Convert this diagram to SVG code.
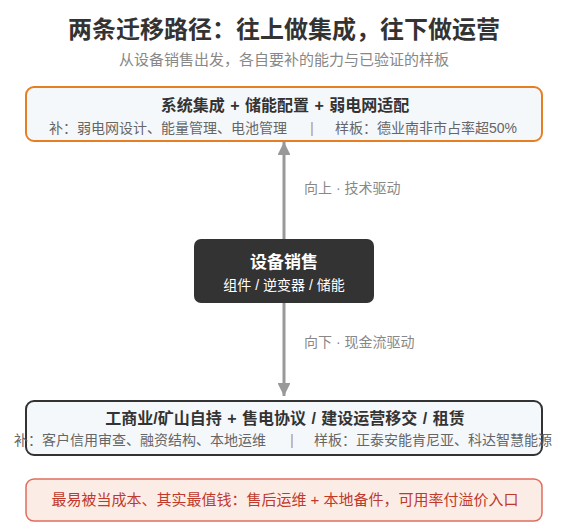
<svg xmlns="http://www.w3.org/2000/svg" width="567" height="522" viewBox="0 0 567 522">
<style>
text{font-family:"Liberation Sans","Noto Sans CJK SC",sans-serif;text-anchor:middle;white-space:pre}
.title{font-size:24px;font-weight:bold;fill:#333}
.subtitle{font-size:15px;fill:#888}
.box{fill:#f5f8fb;stroke-width:2}
.h{font-size:16px;font-weight:bold;fill:#333;word-spacing:1px}
.sl{font-size:14px;fill:#666;text-anchor:start}
.sep{font-size:15px;fill:#b09a80}
.lbl{font-size:14px;fill:#888;text-anchor:start}
.conn{stroke:#999;stroke-width:3;fill:none}
</style>
<defs>
<marker id="arr" viewBox="0 0 10 10" refX="10" refY="5" markerWidth="4.3" markerHeight="4.3" orient="auto" markerUnits="strokeWidth">
<path d="M0,0 L10,5 L0,10 z" fill="#999"/>
</marker>
</defs>
<text class="title" x="284" y="38">两条迁移路径：往上做集成，往下做运营</text>
<text class="subtitle" x="284" y="65">从设备销售出发，各自要补的能力与已验证的样板</text>
<g id="connectors">
<line class="conn" x1="284" y1="239" x2="284" y2="142" marker-end="url(#arr)"/>
<line class="conn" x1="284" y1="303" x2="284" y2="396" marker-end="url(#arr)"/>
<text class="lbl" x="304" y="193">向上 · 技术驱动</text>
<text class="lbl" x="304" y="347">向下 · 现金流驱动</text>
</g>
<g id="top">
<rect class="box" x="26" y="87" width="516" height="54" rx="8" stroke="#e67e22"/>
<text class="h" x="285" y="111">系统集成 + 储能配置 + 弱电网适配</text>
<text class="sl" x="49" y="133">补：弱电网设计、能量管理、电池管理</text>
<text class="sep" x="312" y="133">|</text>
<text class="sl" x="335" y="133">样板：德业南非市占率超50%</text>
</g>
<g id="center">
<rect x="194" y="239" width="180" height="64" rx="7" fill="#333"/>
<text x="284" y="268" style="font-size:17px;font-weight:bold;fill:#fff">设备销售</text>
<text x="284" y="290" style="font-size:14px;fill:#fff">组件 / 逆变器 / 储能</text>
</g>
<g id="bottom">
<rect class="box" x="26" y="401" width="516" height="54" rx="8" stroke="#333"/>
<text class="h" x="285" y="424">工商业/矿山自持 + 售电协议 / 建设运营移交 / 租赁</text>
<text class="sl" x="14" y="445">补：客户信用审查、融资结构、本地运维</text>
<text class="sep" x="292" y="445">|</text>
<text class="sl" x="314" y="445">样板：正泰安能肯尼亚、科达智慧能源</text>
</g>
<g id="note">
<rect x="26" y="479" width="516" height="42" rx="8" fill="#fcece6" stroke="#e06c5c" stroke-width="1.5"/>
<text x="285" y="505" style="font-size:15px;fill:#c0392b">最易被当成本、其实最值钱：售后运维 + 本地备件，可用率付溢价入口</text>
</g>
</svg>
